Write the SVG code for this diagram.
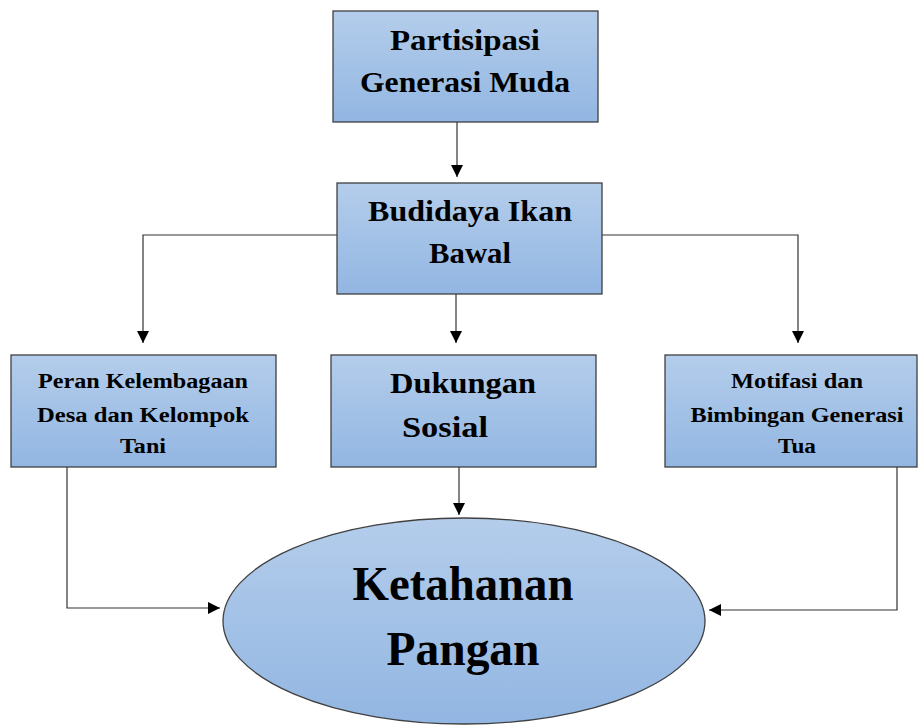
<svg xmlns="http://www.w3.org/2000/svg" width="918" height="725" viewBox="0 0 918 725">
<defs>
<linearGradient id="g" x1="0" y1="0" x2="0" y2="1">
<stop offset="0" stop-color="#b4cdeb"/>
<stop offset="1" stop-color="#92b6e2"/>
</linearGradient>
<marker id="ah" markerWidth="12" markerHeight="12" viewBox="0 0 12 12" refX="12" refY="6" orient="auto" markerUnits="userSpaceOnUse">
<path d="M0,0 L12,6 L0,12 Z" fill="#000"/>
</marker>
<style>
.box{fill:url(#g);stroke:#404040;stroke-width:1.3}
.t{font-weight:bold;fill:#000;text-anchor:middle}
.c{fill:none;stroke:#333;stroke-width:1.2}
</style>
</defs>
<rect width="918" height="725" fill="#fff"/>
<g id="connectors">
<path class="c" d="M457,122 V177" marker-end="url(#ah)"/>
<path class="c" d="M337,235 H143 V343" marker-end="url(#ah)"/>
<path class="c" d="M602,235 H798 V343" marker-end="url(#ah)"/>
<path class="c" d="M456,294 V343" marker-end="url(#ah)"/>
<path class="c" d="M459,467 V515" marker-end="url(#ah)"/>
<path class="c" d="M67,467 V608 H220" marker-end="url(#ah)"/>
<path class="c" d="M897,467 V610 H709" marker-end="url(#ah)"/>
</g>
<g font-family="Liberation Serif, DejaVu Serif, serif">
<g id="n1">
<rect class="box" x="333" y="11" width="265" height="111"/>
<text class="t" x="465" y="50" font-size="30" textLength="150" lengthAdjust="spacingAndGlyphs">Partisipasi</text>
<text class="t" x="465" y="92" font-size="30" textLength="210" lengthAdjust="spacingAndGlyphs">Generasi Muda</text>
</g>
<g id="n2">
<rect class="box" x="337" y="183" width="265" height="111"/>
<text class="t" x="470" y="221" font-size="30" textLength="204" lengthAdjust="spacingAndGlyphs">Budidaya Ikan</text>
<text class="t" x="470" y="263" font-size="30" textLength="82" lengthAdjust="spacingAndGlyphs">Bawal</text>
</g>
<g id="n3">
<rect class="box" x="11" y="355" width="265" height="112"/>
<text class="t" x="143" y="388" font-size="20" textLength="210" lengthAdjust="spacingAndGlyphs">Peran Kelembagaan</text>
<text class="t" x="143" y="422" font-size="20" textLength="212" lengthAdjust="spacingAndGlyphs">Desa dan  Kelompok</text>
<text class="t" x="143" y="453" font-size="20" textLength="46" lengthAdjust="spacingAndGlyphs">Tani</text>
</g>
<g id="n4">
<rect class="box" x="331" y="355" width="265" height="112"/>
<text class="t" x="463" y="393" font-size="30" textLength="146" lengthAdjust="spacingAndGlyphs">Dukungan</text>
<text class="t" x="445" y="437" font-size="30" textLength="86" lengthAdjust="spacingAndGlyphs">Sosial</text>
</g>
<g id="n5">
<rect class="box" x="665" y="355" width="252" height="112"/>
<text class="t" x="797" y="388" font-size="20" textLength="132" lengthAdjust="spacingAndGlyphs">Motifasi dan</text>
<text class="t" x="797" y="422" font-size="20" textLength="213" lengthAdjust="spacingAndGlyphs">Bimbingan Generasi</text>
<text class="t" x="797" y="453" font-size="20" textLength="38" lengthAdjust="spacingAndGlyphs">Tua</text>
</g>
<g id="n6">
<ellipse class="box" cx="464" cy="621" rx="241" ry="103"/>
<text class="t" x="463" y="600" font-size="48" textLength="221" lengthAdjust="spacingAndGlyphs">Ketahanan</text>
<text class="t" x="463" y="665" font-size="48" textLength="153" lengthAdjust="spacingAndGlyphs">Pangan</text>
</g>
</g>
</svg>
